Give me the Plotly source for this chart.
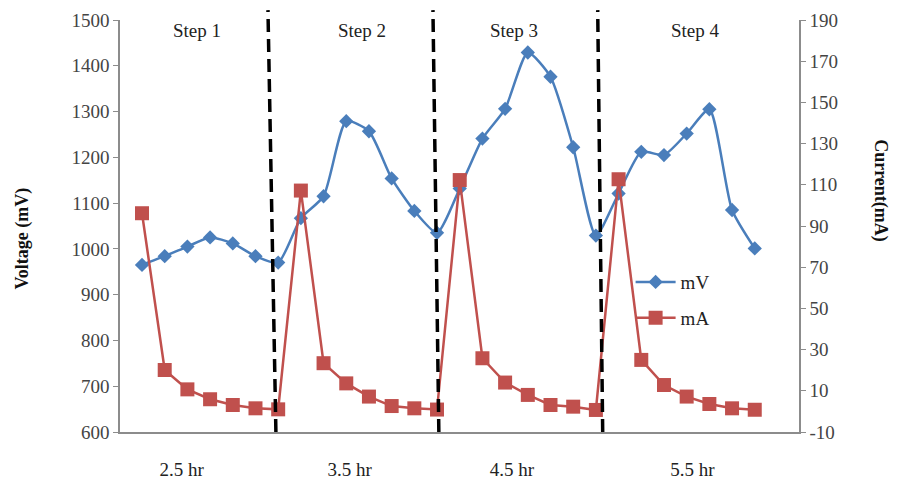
import plotly.graph_objects as go

# ---- data ----
idx = list(range(28))
voltage_mV = [965, 984, 1005, 1025, 1012, 984, 970,
              1067, 1115, 1279, 1257, 1154, 1083, 1035,
              1132, 1241, 1306, 1429, 1376, 1222, 1029,
              1121, 1212, 1205, 1252, 1305, 1085, 1001]
current_mA = [96.2, 20.1, 10.7, 5.9, 3.1, 1.5, 1.0,
              107.2, 23.4, 13.6, 7.2, 2.6, 1.5, 0.9,
              112.3, 25.8, 14.0, 8.0, 3.1, 2.3, 0.7,
              112.7, 25.0, 12.8, 7.2, 3.6, 1.5, 0.8]
step_labels = ["Step 1", "Step 2", "Step 3", "Step 4"]
step_label_pos = [2.42, 9.7, 16.4, 24.4]
time_labels = ["2.5 hr", "3.5 hr", "4.5 hr", "5.5 hr"]
time_label_pos = [1.75, 9.15, 16.3, 24.25]
current_ticks = [-10, 10, 30, 50, 70, 90, 110, 130, 150, 170, 190]
current_tick_text = ["-10", "10", "30", "50", "70", "90", "110", "130", "150", "170", "190"]
# step separators (top, bottom) in index units
separators = [(5.55, 5.9), (12.82, 13.08), (20.08, 20.3)]

XMIN, XMAX = -0.97, 28.95
FONT = "Liberation Serif"
BLUE = "#4a7ebb"
RED = "#c0504d"

fig = go.Figure()
fig.add_trace(go.Scatter(
    x=idx, y=voltage_mV, name="mV", mode="lines+markers", legendgroup="v",
    line=dict(color=BLUE, width=2.5, shape="spline", smoothing=0.6),
    marker=dict(symbol="diamond", size=11, color=BLUE),
))
fig.add_trace(go.Scatter(
    x=idx, y=current_mA, name="mA", mode="lines+markers", yaxis="y2", legendgroup="c",
    line=dict(color=RED, width=2.5),
    marker=dict(symbol="square", size=14, color=RED),
))

shapes = []
for top, bot in separators:
    shapes.append(dict(
        type="line", xref="x domain", yref="paper",
        x0=(bot - XMIN) / (XMAX - XMIN), y0=0.0,
        x1=(top - XMIN) / (XMAX - XMIN), y1=1.024,
        line=dict(color="black", width=3.5, dash="13px,7px"),
    ))

annotations = []
for lab, pos in zip(step_labels, step_label_pos):
    annotations.append(dict(x=pos, y=0.975, xref="x", yref="paper", text=lab,
                            xanchor="center", yanchor="middle",
                            showarrow=False, font=dict(family=FONT, size=19, color="#222")))
annotations.append(dict(x=-0.144, y=0.47, xref="paper", yref="paper", text="<b>Voltage (mV)</b>",
                        xanchor="center", yanchor="middle",
                        textangle=-90, showarrow=False, font=dict(family=FONT, size=18, color="#111")))
annotations.append(dict(x=1.119, y=0.585, xref="paper", yref="paper", text="<b>Current(mA)</b>",
                        xanchor="center", yanchor="middle",
                        textangle=90, showarrow=False, font=dict(family=FONT, size=18, color="#111")))

fig.update_layout(
    width=902, height=489,
    margin=dict(l=120, r=103, t=20, b=57, autoexpand=False),
    paper_bgcolor="white", plot_bgcolor="white",
    font=dict(family=FONT, size=19, color="#333"),
    showlegend=True,
    legend=dict(x=0.752, y=0.41, xanchor="left", yanchor="top", traceorder="grouped",
                bgcolor="rgba(0,0,0,0)", font=dict(family=FONT, size=19, color="#222"),
                itemwidth=40, tracegroupgap=8),
    xaxis=dict(range=[XMIN, XMAX], showgrid=False, zeroline=False, automargin=False,
               tickvals=time_label_pos, ticktext=time_labels, ticks="",
               ticklabelstandoff=19, showline=True, linecolor="#8c8c8c", linewidth=1.5,
               tickfont=dict(family=FONT, size=19, color="#222")),
    yaxis=dict(range=[600, 1500], dtick=100, showgrid=False, zeroline=False, automargin=False,
               showline=True, linecolor="#8c8c8c", linewidth=1.5,
               ticks="outside", ticklen=5, tickcolor="#8c8c8c",
               tickfont=dict(family=FONT, size=19, color="#444")),
    yaxis2=dict(range=[-10, 190], tickvals=current_ticks, ticktext=current_tick_text,
                overlaying="y", side="right", automargin=False,
                showgrid=False, zeroline=False, showline=True, linecolor="#8c8c8c", linewidth=1.5,
                ticks="outside", ticklen=5, tickcolor="#8c8c8c",
                tickfont=dict(family=FONT, size=19, color="#444")),
    shapes=shapes,
    annotations=annotations,
)

fig.write_html("out.html")
